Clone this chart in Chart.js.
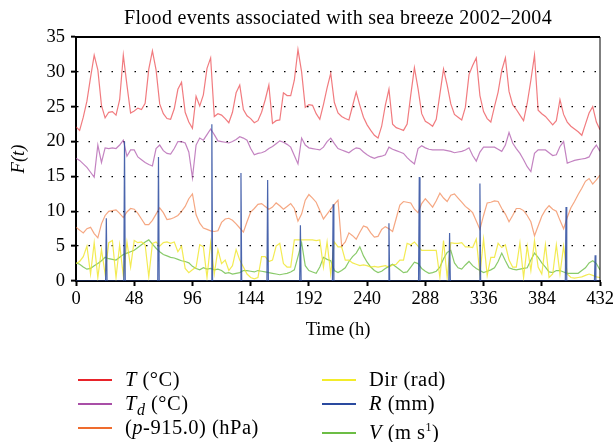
<!DOCTYPE html>
<html>
<head>
<meta charset="utf-8">
<script src="https://cdn.jsdelivr.net/npm/chart.js@4.4.1/dist/chart.umd.min.js"></script>
<style>
  body { margin: 0; background: #fff; }
  #wrap { position: relative; width: 616px; height: 442px; font-family: "Liberation Serif", "DejaVu Serif", serif; color: #000; }
  #chart { position: absolute; left: 0; top: 0; }
  #title { position: absolute; left: 40px; width: 596px; top: 6px; text-align: center; font-size: 20px; letter-spacing: 0.3px; }
  #xtitle { position: absolute; left: 238px; width: 200px; top: 318px; text-align: center; font-size: 18.5px; line-height: 22px; }
  .leg { position: absolute; font-size: 20.5px; letter-spacing: 0.5px; line-height: 22px; white-space: nowrap; }
  .leg .sw { display: inline-block; width: 34px; height: 2px; vertical-align: middle; margin-right: 13px; position: relative; top: -1px; }
</style>
</head>
<body>
<div id="wrap">
  <canvas id="chart" width="616" height="442"></canvas>
  <div id="title">Flood events associated with sea breeze 2002–2004</div>
  <div id="xtitle">Time (h)</div>
  <div class="leg" style="left:78px; top:368px;"><span class="sw" style="background:#e8232a"></span><i>T</i> (°C)</div>
  <div class="leg" style="left:78px; top:392px;"><span class="sw" style="background:#a94fa7"></span><i>T<sub style="font-size:16px">d</sub></i> (°C)</div>
  <div class="leg" style="left:78px; top:416px;"><span class="sw" style="background:#ef6c2e"></span>(<i>p</i>-915.0) (hPa)</div>
  <div class="leg" style="left:322px; top:368px;"><span class="sw" style="background:#f3ec2a"></span>Dir (rad)</div>
  <div class="leg" style="left:322px; top:392px;"><span class="sw" style="background:#2a4a9f"></span><i>R</i> (mm)</div>
  <div class="leg" style="left:322px; top:416px;"><span class="sw" style="background:#6cbd45"></span><i>V</i> (m s<sup style="font-size:12px">1</sup>)</div>
</div>
<script>
// valori ogni 3 ore, una riga = un giorno
const tempC = [
  22.1, 21.6, 23.5, 25.8, 29.2, 32.4, 30.3, 25.2,
  23.4, 24.2, 24.3, 23.8, 26.0, 32.4, 28.1, 24.1,
  24.4, 24.8, 24.6, 25.5, 30.4, 33.0, 30.3, 25.4,
  24.0, 23.3, 23.2, 24.7, 27.5, 28.5, 24.2, 22.8,
  21.9, 26.5, 25.1, 26.7, 30.5, 32.0, 23.6, 24.0,
  23.8, 23.3, 22.7, 24.2, 27.0, 28.1, 24.6, 23.7,
  23.3, 22.7, 23.0, 24.2, 26.0, 28.1, 22.6, 23.0,
  23.1, 27.0, 26.6, 26.6, 28.8, 33.2, 30.0, 24.9,
  25.3, 25.2, 24.0, 23.2, 25.3, 27.7, 29.8, 25.6,
  24.1, 23.6, 23.3, 23.1, 25.1, 27.1, 25.2, 23.5,
  22.4, 21.6, 20.9, 20.5, 22.2, 25.2, 27.5, 22.5,
  22.0, 21.8, 21.6, 22.5, 26.7, 30.6, 27.6, 24.0,
  22.9, 22.6, 22.2, 23.2, 26.8, 30.4, 28.1, 25.4,
  23.9, 23.5, 23.1, 24.9, 29.6, 30.9, 32.0, 26.6,
  24.3, 23.3, 22.8, 25.0, 27.1, 30.2, 32.0, 27.2,
  25.3, 24.6, 23.8, 23.0, 25.5, 28.8, 32.4, 24.5,
  24.0, 23.6, 23.0, 22.4, 23.0, 26.0, 23.9, 22.8,
  22.2, 21.8, 21.4, 20.9, 22.5, 24.1, 25.0, 22.8,
  21.7
];

const dewC = [
  17.6, 17.3, 16.8, 16.3, 15.6, 14.9, 19.5, 17.0,
  19.1, 19.0, 19.1, 19.0, 19.5, 20.2, 17.9, 18.8,
  18.8, 17.8, 17.4, 17.0, 16.7, 16.5, 19.0, 19.5,
  18.7, 18.3, 18.2, 19.0, 20.0, 20.0, 19.8, 18.5,
  14.8, 19.5, 20.5, 20.2, 21.0, 21.8, 21.0, 20.1,
  20.0, 19.9, 19.8, 20.0, 20.3, 20.7, 20.5, 20.2,
  19.0, 18.1, 18.3, 18.4, 18.6, 19.0, 19.3, 19.7,
  20.1, 19.9, 19.6, 19.2, 18.0, 16.8, 20.5, 19.5,
  19.1, 19.0, 18.9, 18.8, 19.2, 20.0, 20.5, 19.7,
  19.0, 18.8, 18.6, 18.4, 18.8, 19.1, 19.0, 18.5,
  18.1, 17.8, 17.6, 17.8, 17.9, 18.1, 19.2, 18.9,
  18.7, 18.5, 18.3, 17.7, 17.2, 16.8, 19.0, 19.4,
  19.1, 18.9, 18.8, 18.8, 18.8, 18.8, 18.7, 18.6,
  18.4, 18.5, 18.6, 18.8, 19.1, 18.0, 17.2, 18.5,
  19.2, 19.2, 19.2, 19.2, 18.9, 18.6, 19.5, 21.3,
  19.8, 19.0, 18.3, 17.4, 16.4, 15.7, 18.3, 18.8,
  18.8, 18.8, 18.4, 18.0, 18.1, 19.3, 20.0, 16.9,
  17.1, 17.3, 17.4, 17.5, 17.6, 17.8, 18.8, 19.5,
  18.6
];

const pressAnom = [
  7.7, 7.3, 6.9, 7.5, 7.7, 6.8, 6.2, 8.2,
  9.4, 10.0, 10.1, 10.2, 9.7, 9.1, 9.9, 10.4,
  10.3, 9.7, 8.9, 8.1, 8.1, 8.7, 9.6, 10.5,
  9.8, 8.8, 8.9, 9.1, 9.4, 10.0, 10.7, 11.8,
  12.5, 9.5, 8.3, 7.6, 7.4, 7.2, 7.1, 7.2,
  8.4, 8.9, 9.0, 8.7, 8.2, 7.6, 7.0, 8.5,
  9.9, 10.4, 11.0, 11.1, 10.7, 10.3, 10.6, 11.2,
  10.8, 10.3, 10.7, 11.1, 10.4, 8.6, 9.6, 11.6,
  12.4, 11.9, 11.3, 10.1, 8.9, 9.6, 10.3, 11.0,
  11.6, 5.0, 5.6, 6.9, 6.5, 6.0, 7.0, 7.9,
  7.7, 6.9, 6.3, 6.4, 7.4, 7.8, 7.5, 7.1,
  9.0, 10.9, 11.4, 11.3, 11.2, 10.3, 9.8, 11.1,
  11.8, 11.2, 10.6, 11.5, 12.6, 11.9, 11.4, 12.3,
  12.5, 11.9, 11.3, 10.7, 10.3, 9.8, 8.6, 7.4,
  9.4, 11.2, 11.3, 11.5, 11.4, 10.4, 9.6, 8.5,
  9.4, 10.4, 10.4, 10.1, 9.4, 8.5, 6.5, 7.9,
  9.3, 10.2, 10.8, 10.3, 10.0, 8.7, 7.5, 9.1,
  10.5, 11.4, 12.4, 13.3, 14.3, 14.7, 13.9, 14.5,
  15.2
];

const windDir = [
  2.5, 2.8, 3.5, 5.0, 1.0, 5.5, 0.5, 4.5,
  1.0, 5.5, 5.8, 0.5, 5.2, 0.8, 5.6, 2.0,
  5.8, 5.5, 5.6, 5.2, 0.6, 5.4, 5.6, 5.0,
  5.5, 5.6, 5.4, 5.6, 4.2, 5.0, 1.8, 1.2,
  1.6, 2.0, 5.2, 4.9, 0.5, 5.5, 1.0, 4.5,
  2.5, 3.0, 1.5, 2.2, 4.5, 3.0, 2.0, 1.0,
  0.5, 0.3, 0.5, 3.5, 3.5, 2.8, 3.0, 5.0,
  5.4, 2.5, 2.0, 2.0, 5.9, 5.9, 5.9, 5.9,
  5.9, 5.9, 5.8, 5.9, 2.0, 5.6, 1.0, 5.6,
  4.9, 4.9, 3.0, 3.0, 2.6, 2.4, 2.2, 2.3,
  2.2, 2.0, 2.1, 2.0, 2.1, 2.2, 2.0, 2.3,
  2.4, 3.0, 3.0, 5.4, 5.2, 5.6, 5.0, 4.4,
  4.4, 4.4, 4.4, 4.4, 0.5, 5.8, 0.5, 5.5,
  5.4, 5.4, 5.5, 4.9, 4.9, 4.8, 6.0, 1.0,
  6.0, 0.8, 3.4, 3.4, 5.4, 4.8, 5.2, 3.0,
  2.0, 2.0, 5.5, 0.5, 5.0, 1.5, 5.8, 2.0,
  1.0, 5.2, 0.5, 1.0, 5.2, 1.0, 5.0, 1.0,
  0.5, 0.4, 0.5, 0.6, 0.8, 1.0, 0.8, 0.6,
  0.5
];

const windSpeed = [
  2.6, 2.4, 2.0, 1.7, 1.8, 2.2, 2.5, 2.9,
  3.4, 3.2, 3.1, 3.0, 3.4, 3.8, 4.0, 4.2,
  4.4, 4.8, 5.2, 5.6, 5.9, 5.3, 4.7, 4.2,
  3.8, 3.6, 3.4, 3.3, 3.1, 2.9, 2.8, 2.6,
  2.1, 1.8, 1.6, 1.9, 1.7, 1.8, 1.6, 1.7,
  1.5, 1.1, 1.2, 1.0, 1.1, 1.2, 1.5, 1.5,
  1.4, 1.3, 1.5, 1.4, 1.3, 1.2, 1.1, 1.0,
  0.9, 1.0, 1.1, 1.3, 1.6, 3.5, 5.5, 2.2,
  1.5, 1.3, 1.1, 2.0, 3.4, 3.1, 2.9, 1.5,
  1.2, 1.5, 1.9, 2.8, 3.5, 4.0, 4.9, 3.6,
  2.7, 2.0, 1.5, 1.2, 1.4, 1.8, 2.1, 2.4,
  2.0, 1.6, 1.2, 1.3, 2.0, 2.7, 2.5, 1.8,
  1.4, 1.1, 1.2, 1.4, 2.0, 3.2, 4.1, 4.4,
  2.6, 1.9, 1.7, 2.3, 2.8, 2.2, 1.8, 1.5,
  1.2, 1.4, 1.6, 1.9, 2.8, 4.0, 2.9, 1.9,
  1.7, 1.6, 1.7, 1.8, 1.9, 3.0, 4.0, 3.4,
  2.6, 2.0, 1.3, 1.2, 1.5, 1.5, 1.3, 1.1,
  1.1, 1.1, 1.1, 1.5, 1.9, 2.6, 2.9, 2.5,
  1.6
];

// pioggia: ora dell'evento e quantità (mm), zero altrove
const rainHours = [25, 40, 68, 112, 136, 158, 185, 212, 258, 283, 308, 333, 404, 428];
const rainMm = [9.0, 20.0, 17.8, 22.5, 15.5, 14.5, 8.0, 11.0, 8.3, 14.9, 6.9, 14.0, 10.6, 3.7];

const xTicks = [0, 48, 96, 144, 192, 240, 288, 336, 384, 432];

const hours = [];
for (let h = 0; h <= 432; h += 3) hours.push(h);

function pts(vals) {
    return vals.map((v, i) => ({ x: hours[i], y: v }));
}

const rainPts = [{ x: 0, y: 0 }];
rainHours.forEach((h, i) => {
    rainPts.push({ x: h - 0.6, y: 0 }, { x: h, y: rainMm[i] }, { x: h + 0.6, y: 0 });
});
rainPts.push({ x: 432, y: 0 });

const serif = '"Liberation Serif", "DejaVu Serif", serif';

// cornice sopra e a destra
const frame = {
    id: 'frame',
    afterDatasetsDraw(chart) {
        const { ctx, chartArea: a } = chart;
        ctx.save();
        ctx.strokeStyle = '#000';
        ctx.lineWidth = 2;
        ctx.beginPath();
        ctx.moveTo(a.left, a.top);
        ctx.lineTo(a.right, a.top);
        ctx.stroke();
        ctx.lineWidth = 1;
        ctx.beginPath();
        ctx.moveTo(a.right, a.top);
        ctx.lineTo(a.right, a.bottom);
        ctx.stroke();
        ctx.restore();
    }
};

const ctx = document.getElementById('chart').getContext('2d');
new Chart(ctx, {
    type: 'line',
    data: {
        datasets: [
            { label: 'R (mm)', data: rainPts, borderColor: 'rgba(42,74,159,0.85)', borderWidth: 1.2 },
            { label: 'T (°C)', data: pts(tempC), borderColor: 'rgba(232,35,42,0.6)' },
            { label: 'Td (°C)', data: pts(dewC), borderColor: 'rgba(169,79,167,0.7)' },
            { label: '(p-915.0) (hPa)', data: pts(pressAnom), borderColor: 'rgba(239,108,46,0.6)' },
            { label: 'Dir (rad)', data: pts(windDir), borderColor: 'rgba(240,230,40,0.8)' },
            { label: 'V (m s1)', data: pts(windSpeed), borderColor: 'rgba(108,189,69,0.8)' }
        ]
    },
    options: {
        responsive: false,
        animation: false,
        layout: { padding: { top: 37, right: 16, bottom: 101, left: 0 } },
        elements: {
            point: { radius: 0 },
            line: { borderWidth: 1.2, tension: 0, fill: false }
        },
        plugins: {
            legend: { display: false },
            tooltip: { enabled: false }
        },
        scales: {
            x: {
                type: 'linear',
                min: 0,
                max: 432,
                afterBuildTicks(scale) {
                    scale.ticks = xTicks.map(v => ({ value: v }));
                },
                ticks: { color: '#000', font: { family: serif, size: 18.5 }, padding: 2, maxRotation: 0, autoSkip: false },
                grid: { drawOnChartArea: false, tickLength: 5, tickColor: '#000', tickWidth: 2 },
                border: { color: '#000', width: 2 },
                afterFit(scale) { scale.height = 60; }
            },
            y: {
                min: 0,
                max: 35,
                ticks: { stepSize: 5, color: '#000', font: { family: serif, size: 18.5 }, padding: 6 },
                grid: { color: '#000', lineWidth: 1.3, tickLength: 5, tickColor: '#000', tickWidth: 2 },
                border: { color: '#000', width: 2, dash: [1.5, 10] },
                title: { display: true, text: 'F(t)', color: '#000', font: { family: serif, size: 18.5, style: 'italic' }, padding: { top: 8, bottom: 0 } },
                afterFit(scale) { scale.width = 76; }
            }
        }
    },
    plugins: [frame]
});
</script>
</body>
</html>
